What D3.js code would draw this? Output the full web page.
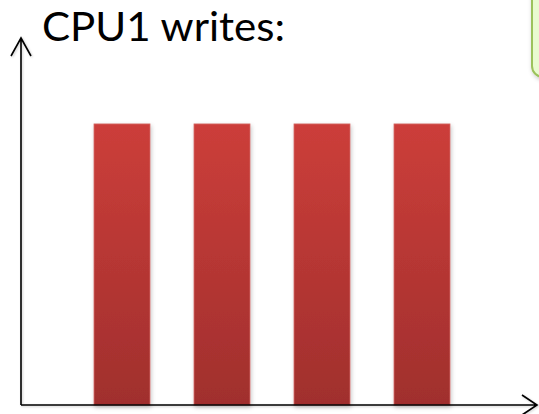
<!DOCTYPE html>
<html>
<head>
<meta charset="utf-8">
<script src="https://cdn.jsdelivr.net/npm/d3@7"></script>
<style>
  html, body { margin: 0; padding: 0; background: #fff; }
  svg { display: block; }
</style>
</head>
<body>
<svg id="chart" width="539" height="414"></svg>
<script>
// Write slots and the relative amount written in each
const slots = ["w1", "w2", "w3", "w4"];
const writes = [0.77, 0.77, 0.77, 0.77];
const title = "CPU1 writes:";

const svg = d3.select("#chart");
const defs = svg.append("defs");

const grad = defs.append("linearGradient")
  .attr("id", "barFill").attr("x1", 0).attr("y1", 0).attr("x2", 0).attr("y2", 1);
grad.append("stop").attr("offset", "0%").attr("stop-color", "#cc3e3a");
grad.append("stop").attr("offset", "100%").attr("stop-color", "#a02f2d");

const shadow = defs.append("filter").attr("id", "soft")
  .attr("x", "-20%").attr("y", "-20%").attr("width", "140%").attr("height", "140%");
shadow.append("feDropShadow").attr("dx", 1).attr("dy", 2).attr("stdDeviation", 2)
  .attr("flood-color", "#000").attr("flood-opacity", 0.22);

const axisShadow = defs.append("filter").attr("id", "axisSoft")
  .attr("x", "-5%").attr("y", "-5%").attr("width", "110%").attr("height", "110%");
axisShadow.append("feDropShadow").attr("dx", 1).attr("dy", 1).attr("stdDeviation", 1)
  .attr("flood-color", "#000").attr("flood-opacity", 0.2);

const originX = 21, originY = 405;

const x = d3.scaleBand().domain(slots).range([72, 472]).paddingInner(0.44).paddingOuter(0.22);
const y = d3.scaleLinear().domain([0, 1]).range([originY, 40]);

// Callout box in the top-right corner
svg.append("rect")
  .attr("x", 532).attr("y", -20).attr("width", 40).attr("height", 97)
  .attr("rx", 11).attr("ry", 11)
  .attr("fill", "#e9fbd0").attr("stroke", "#9cc25c").attr("stroke-width", 2)
  .attr("filter", "url(#soft)");

// Bars
svg.append("g").selectAll("rect")
  .data(writes)
  .join("rect")
  .attr("x", (d, i) => x(slots[i]))
  .attr("y", d => y(d))
  .attr("width", x.bandwidth())
  .attr("height", d => y(0) - y(d))
  .attr("fill", "url(#barFill)")
  .attr("stroke", "#d46a66").attr("stroke-width", 0.8)
  .attr("filter", "url(#soft)");

// Axes with open arrowheads
const axes = svg.append("g").attr("fill", "none").attr("stroke", "#000")
  .attr("stroke-width", 1.6).attr("filter", "url(#axisSoft)");
axes.append("path")
  .attr("d", `M${originX},${originY} L${originX},38 M11,56 L${originX},38 L31,56`);
axes.append("path")
  .attr("d", `M${originX},${originY} L537,${originY} M522,395 L537,${originY} L522,415`);

// Title
svg.append("text")
  .attr("x", 42).attr("y", 41)
  .attr("font-family", "Lato, 'Open Sans', sans-serif")
  .attr("font-size", 40)
  .attr("fill", "#000")
  .attr("textLength", 243).attr("lengthAdjust", "spacingAndGlyphs")
  .text(title);
</script>
</body>
</html>
